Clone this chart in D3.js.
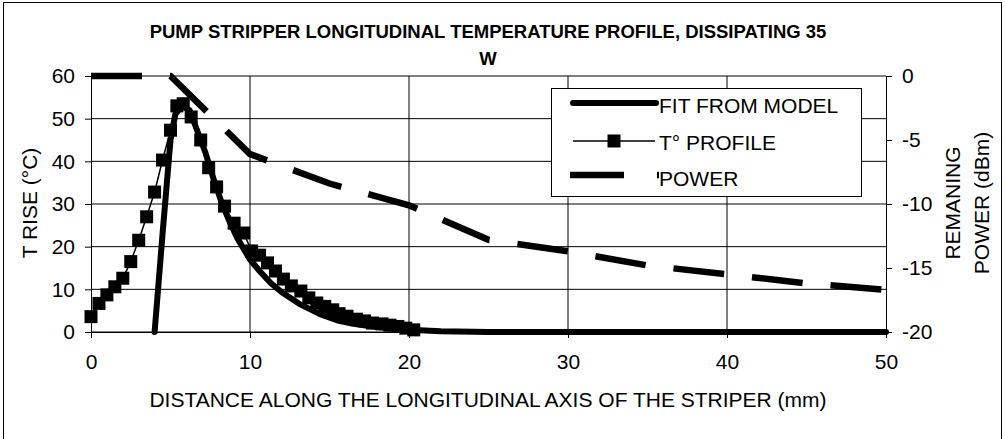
<!DOCTYPE html>
<html lang="en">
<head>
<meta charset="UTF-8">
<title>Pump stripper temperature profile</title>
<script src="https://d3js.org/d3.v7.min.js"></script>
<style>
  body { margin: 0; background: #fff; }
  svg text { font-family: Arial, "Liberation Sans", sans-serif; fill: #000; }
</style>
</head>
<body>
<svg id="chart" width="1005" height="439"></svg>
<script>
// ---- data ----
const fitX = [4.0, 4.5, 5.0, 5.3, 5.7, 6.2, 6.7, 7.2, 7.7, 8.2, 8.7, 9.2, 10, 10.6, 11.3, 12, 13.1, 14.4, 15.6, 16.5, 17.5, 19, 20, 22, 25, 30, 40, 50];
const fitT = [0, 23, 45, 51, 53, 52, 47, 42, 36, 30.5, 26, 22, 17, 14.3, 11.5, 9.3, 6.6, 4.2, 2.6, 1.9, 1.4, 0.8, 0.5, 0.2, 0, 0, 0, 0];

const profX = [0, 0.5, 1, 1.5, 2, 2.5, 3, 3.5, 4, 4.5, 5, 5.4, 5.8, 6.3, 6.9, 7.4, 7.9, 8.4, 9.0, 9.6, 10.1, 10.6, 11.1, 11.6, 12.1, 12.6, 13.2, 13.7, 14.2, 14.7, 15.2, 15.6, 16.1, 16.7, 17.2, 17.7, 18.3, 18.8, 19.3, 19.8, 20.3];
const profT = [3.6, 6.7, 8.7, 10.6, 12.6, 16.5, 21.5, 27, 32.8, 40.3, 47.3, 53, 53.5, 50.4, 45, 38.5, 34, 29.5, 25.5, 23.2, 19, 18, 16.2, 14.3, 12.4, 10.8, 9.6, 8, 6.8, 6, 5.2, 4.3, 3.7, 3.0, 2.6, 2.1, 1.9, 1.6, 1.3, 0.9, 0.5];

const powX = [0, 5, 10, 15, 20, 25, 30, 35, 40, 45, 50];
const powDbm = [0, 0, -6.1, -8.4, -10.1, -12.8, -13.7, -14.8, -15.5, -16.2, -16.7];

const xTicks = [0, 10, 20, 30, 40, 50];
const leftTicks = [0, 10, 20, 30, 40, 50, 60];
const rightTicks = [0, -5, -10, -15, -20];

const seriesNames = ["FIT FROM MODEL", "T\u00b0 PROFILE", "POWER"];

// ---- layout ----
const svg = d3.select("#chart");
const L = 91, R = 886, T = 76, B = 332;

const x = d3.scaleLinear().domain([0, 50]).range([L, R]);
const yL = d3.scaleLinear().domain([0, 60]).range([B, T]);
const yR = d3.scaleLinear().domain([-20, 0]).range([B, T]);

// outer frame
svg.append("rect")
  .attr("x", 3.5).attr("y", 2.5).attr("width", 998).attr("height", 445)
  .attr("fill", "#fff").attr("stroke", "#000").attr("stroke-width", 1);

// title
const title = svg.append("text")
  .attr("text-anchor", "middle")
  .style("font-weight", "bold").style("font-size", "18.5px");
title.append("tspan").attr("x", 488).attr("y", 38)
  .text("PUMP STRIPPER LONGITUDINAL TEMPERATURE PROFILE, DISSIPATING 35");
title.append("tspan").attr("x", 488).attr("y", 65).text("W");

// gridlines
const grid = svg.append("g").attr("stroke", "#000").attr("stroke-width", 1);
grid.selectAll(".h").data(leftTicks).join("line")
  .attr("x1", L).attr("x2", R)
  .attr("y1", d => yL(d)).attr("y2", d => yL(d));
grid.selectAll(".v").data(xTicks.slice(1, -1)).join("line")
  .attr("x1", d => x(d)).attr("x2", d => x(d))
  .attr("y1", T).attr("y2", B);

// axes
function styleAxis(g) {
  g.selectAll("text").style("font-size", "21px").attr("fill", "#000");
  g.selectAll("line, path").attr("stroke", "#000");
}
svg.append("g").attr("transform", `translate(0,${B})`)
  .call(d3.axisBottom(x).tickValues(xTicks).tickSize(6).tickSizeOuter(0).tickPadding(16))
  .call(styleAxis);
svg.append("g").attr("transform", `translate(${L},0)`)
  .call(d3.axisLeft(yL).tickValues(leftTicks).tickSize(6).tickSizeOuter(0).tickPadding(10))
  .call(styleAxis);
svg.append("g").attr("transform", `translate(${R},0)`)
  .call(d3.axisRight(yR).tickValues(rightTicks).tickSize(6).tickSizeOuter(0).tickPadding(10)
    .tickFormat(d => d === 0 ? "0" : String(d)))
  .call(styleAxis);
svg.selectAll(".domain").attr("stroke", "#000");

// axis titles
svg.append("text")
  .attr("x", 488).attr("y", 407)
  .attr("text-anchor", "middle").style("font-size", "21px")
  .text("DISTANCE ALONG THE LONGITUDINAL AXIS OF THE STRIPER (mm)");
svg.append("text")
  .attr("transform", "translate(30,203) rotate(-90)")
  .attr("text-anchor", "middle").attr("dy", "0.35em").style("font-size", "21px")
  .text("T RISE (\u00b0C)");
svg.append("text")
  .attr("transform", "translate(953,203) rotate(-90)")
  .attr("text-anchor", "middle").attr("dy", "0.35em").style("font-size", "21px")
  .text("REMANING");
svg.append("text")
  .attr("transform", "translate(982,203) rotate(-90)")
  .attr("text-anchor", "middle").attr("dy", "0.35em").style("font-size", "21px")
  .text("POWER (dBm)");

// series
const fitLine = d3.line().x((d, i) => x(fitX[i])).y(d => yL(d));
svg.append("path").datum(fitT)
  .attr("d", fitLine)
  .attr("fill", "none").attr("stroke", "#000").attr("stroke-width", 6)
  .attr("stroke-linecap", "round").attr("stroke-linejoin", "round");

const profLine = d3.line().x((d, i) => x(profX[i])).y(d => yL(d));
svg.append("path").datum(profT)
  .attr("d", profLine)
  .attr("fill", "none").attr("stroke", "#000").attr("stroke-width", 1.5);
svg.selectAll(".mk").data(profT).join("rect")
  .attr("x", (d, i) => x(profX[i]) - 6.5)
  .attr("y", d => yL(d) - 6.5)
  .attr("width", 13).attr("height", 13).attr("fill", "#000");

const powLine = d3.line().x((d, i) => x(powX[i])).y(d => yR(d));
svg.append("path").datum(powDbm)
  .attr("d", powLine)
  .attr("fill", "none").attr("stroke", "#000").attr("stroke-width", 6.5)
  .attr("stroke-dasharray", "51,28").attr("stroke-linejoin", "miter");

// legend
const lg = svg.append("g");
lg.append("rect").attr("x", 551.5).attr("y", 88.5).attr("width", 310).attr("height", 108)
  .attr("fill", "#fff").attr("stroke", "#000").attr("stroke-width", 1);
const rows = [105, 142, 178];
lg.append("line").attr("x1", 573).attr("x2", 656).attr("y1", 103).attr("y2", 103)
  .attr("stroke", "#000").attr("stroke-width", 6).attr("stroke-linecap", "round");
lg.append("line").attr("x1", 573).attr("x2", 655).attr("y1", 141).attr("y2", 141)
  .attr("stroke", "#000").attr("stroke-width", 1.5);
lg.append("rect").attr("x", 607.5).attr("y", 134.5).attr("width", 13).attr("height", 13).attr("fill", "#000");
lg.append("line").attr("x1", 570).attr("x2", 659).attr("y1", 175).attr("y2", 175)
  .attr("stroke", "#000").attr("stroke-width", 6.5).attr("stroke-dasharray", "54,33");
lg.selectAll(".lt").data(seriesNames).join("text")
  .attr("x", 659).attr("y", (d, i) => rows[i]).attr("dy", "0.36em")
  .style("font-size", "21px")
  .text(d => d);
</script>
</body>
</html>
